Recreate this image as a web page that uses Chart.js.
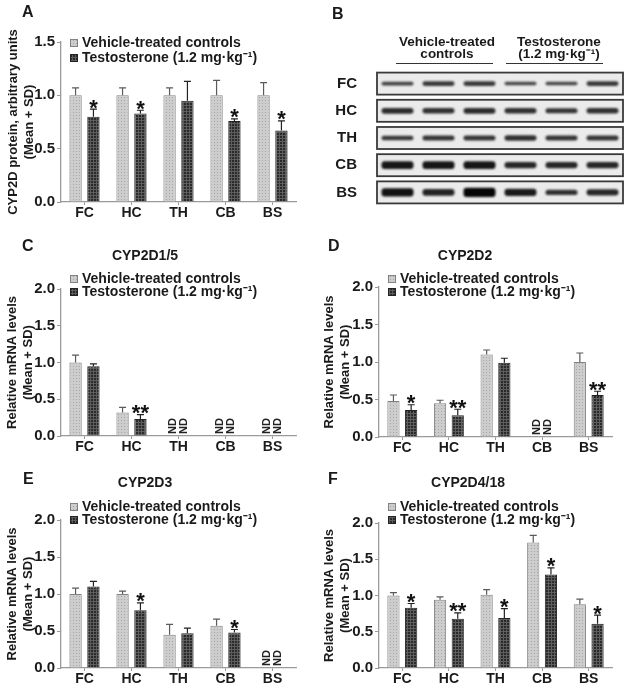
<!DOCTYPE html>
<html>
<head>
<meta charset="utf-8">
<script src="https://cdn.jsdelivr.net/npm/chart.js@4"></script>
<style>
    body { margin: 0; background: #fff; }
    #fig { position: relative; width: 629px; height: 688px; font-family: "Liberation Sans", Arial, sans-serif; color: #1a1a1a; }
    canvas { position: absolute; }
    .lbl { position: absolute; font-weight: bold; font-size: 16px; line-height: 1; }
    .ttl { position: absolute; font-weight: bold; font-size: 14px; font-family: "Liberation Sans Narrow", "Liberation Sans", Arial, sans-serif; transform: translate(-50%, -50%); white-space: nowrap; }
    .hdr { position: absolute; top: 36px; font-weight: bold; font-size: 13.5px; line-height: 11.5px; text-align: center; transform: translateX(-50%); white-space: nowrap; }
    .rule { position: absolute; top: 63px; height: 0; border-top: 1.5px solid #333; }
</style>
</head>
<body>
<div id="fig">
    <canvas id="chartA" width="318" height="228" style="left:0;top:0"></canvas>
    <canvas id="chartB" width="309" height="228" style="left:320px;top:0"></canvas>
    <canvas id="chartC" width="318" height="228" style="left:0;top:230px"></canvas>
    <canvas id="chartD" width="309" height="228" style="left:320px;top:230px"></canvas>
    <canvas id="chartE" width="318" height="228" style="left:0;top:460px"></canvas>
    <canvas id="chartF" width="309" height="228" style="left:320px;top:460px"></canvas>

    <div class="lbl" style="left:22px;top:4px">A</div>
    <div class="lbl" style="left:332px;top:6px">B</div>
    <div class="lbl" style="left:22px;top:238px">C</div>
    <div class="lbl" style="left:328px;top:238px">D</div>
    <div class="lbl" style="left:23px;top:471px">E</div>
    <div class="lbl" style="left:328px;top:471px">F</div>

    <div class="ttl" style="left:145px;top:255px">CYP2D1/5</div>
    <div class="ttl" style="left:465px;top:255px">CYP2D2</div>
    <div class="ttl" style="left:145px;top:482px">CYP2D3</div>
    <div class="ttl" style="left:468px;top:482px">CYP2D4/18</div>

    <div class="hdr" style="left:447px">Vehicle-treated<br>controls</div>
    <div class="hdr" style="left:559px">Testosterone<br>(1.2 mg·kg⁻¹)</div>
    <div class="rule" style="left:396px;width:97px"></div>
    <div class="rule" style="left:506px;width:97px"></div>
</div>
<script>
const regions = ["FC", "HC", "TH", "CB", "BS"];
const seriesNames = ["Vehicle-treated controls", "Testosterone (1.2 mg·kg⁻¹)"];

// A - CYP2D protein
const protCtrl = [1.0, 1.0, 1.0, 1.0, 1.0];
const protCtrlSD = [0.07, 0.07, 0.07, 0.14, 0.12];
const protTest = [0.80, 0.83, 0.95, 0.76, 0.67];
const protTestSD = [0.07, 0.03, 0.18, 0.02, 0.09];
const protStars = ["*", "*", "", "*", "*"];

// C - CYP2D1/5 mRNA
const d15Ctrl = [1.0, 0.32, null, null, null];
const d15CtrlSD = [0.10, 0.07, null, null, null];
const d15Test = [0.95, 0.23, null, null, null];
const d15TestSD = [0.03, 0.06, null, null, null];
const d15Stars = ["", "**", "", "", ""];
const d15ND = [false, false, true, true, true];

// D - CYP2D2 mRNA
const d2Ctrl = [0.48, 0.45, 1.10, null, 1.0];
const d2CtrlSD = [0.08, 0.04, 0.06, null, 0.12];
const d2Test = [0.36, 0.29, 0.99, null, 0.56];
const d2TestSD = [0.07, 0.08, 0.06, null, 0.05];
const d2Stars = ["*", "**", "", "", "**"];
const d2ND = [false, false, false, true, false];

// E - CYP2D3 mRNA
const d3Ctrl = [1.0, 1.0, 0.45, 0.57, null];
const d3CtrlSD = [0.08, 0.04, 0.14, 0.09, null];
const d3Test = [1.10, 0.78, 0.47, 0.48, null];
const d3TestSD = [0.07, 0.10, 0.07, 0.04, null];
const d3Stars = ["", "*", "", "*", ""];
const d3ND = [false, false, false, false, true];

// F - CYP2D4/18 mRNA
const d4Ctrl = [1.0, 0.94, 1.01, 1.73, 0.88];
const d4CtrlSD = [0.04, 0.04, 0.07, 0.10, 0.07];
const d4Test = [0.83, 0.68, 0.69, 1.29, 0.61];
const d4TestSD = [0.06, 0.08, 0.13, 0.09, 0.12];
const d4Stars = ["*", "**", "*", "*", "*"];

// B - western blot band intensities (6 lanes: 3 controls, 3 testosterone)
const lanes = ["1", "2", "3", "4", "5", "6"];
const blotRows = ["FC", "HC", "TH", "CB", "BS"];
const bandFC = [0.30, 0.40, 0.40, 0.25, 0.25, 0.40];
const bandHC = [0.55, 0.50, 0.55, 0.50, 0.45, 0.50];
const bandTH = [0.40, 0.45, 0.45, 0.50, 0.45, 0.45];
const bandCB = [0.80, 0.80, 0.80, 0.60, 0.60, 0.60];
const bandBS = [0.85, 0.65, 1.00, 0.75, 0.50, 0.60];
const bands = [bandFC, bandHC, bandTH, bandCB, bandBS];

Chart.defaults.font.family = '"Liberation Sans", Arial, sans-serif';
Chart.defaults.color = "#1a1a1a";

function makePattern(bg, fg, grid) {
    const c = document.createElement("canvas");
    c.width = 3;
    c.height = 3;
    const g = c.getContext("2d");
    g.fillStyle = bg;
    g.fillRect(0, 0, 3, 3);
    g.fillStyle = fg;
    if (grid) {
        g.fillRect(0, 0, 3, 1);
        g.fillRect(0, 0, 1, 3);
    } else {
        g.fillRect(1, 1, 1, 1);
    }
    return g.createPattern(c, "repeat");
}

const ctrlFill = makePattern("#cdcdcd", "#a6a6a6", false);
const testFill = makePattern("#2a2a2a", "#5e5e5e", true);

// error bars, asterisks and ND labels
const marks = {
    id: "marks",
    afterDatasetsDraw(chart, args, opts) {
        const ctx = chart.ctx;
        const x = chart.scales.x;
        const y = chart.scales.y;
        ctx.save();
        chart.data.datasets.forEach((ds, i) => {
            chart.getDatasetMeta(i).data.forEach((bar, j) => {
                const v = ds.data[j];
                if (v == null) return;
                const top = y.getPixelForValue(v + ds.sd[j]);
                ctx.strokeStyle = ds.errColor;
                ctx.lineWidth = 1.2;
                ctx.beginPath();
                ctx.moveTo(bar.x, bar.y);
                ctx.lineTo(bar.x, top);
                ctx.moveTo(bar.x - 3.5, top);
                ctx.lineTo(bar.x + 3.5, top);
                ctx.stroke();
                if (ds.stars && ds.stars[j]) {
                    ctx.fillStyle = "#111";
                    ctx.font = 'bold 22px "Liberation Sans", Arial';
                    ctx.textAlign = "center";
                    ctx.textBaseline = "alphabetic";
                    ctx.fillText(ds.stars[j], bar.x, top + 5.5);
                }
            });
        });
        const nd = opts.nd || [];
        ctx.font = 'bold 11px "Liberation Sans", Arial';
        ctx.fillStyle = "#222";
        nd.forEach((flag, j) => {
            if (!flag) return;
            const cx = x.getPixelForValue(j);
            [-5.5, 5.5].forEach((dx) => {
                ctx.save();
                ctx.translate(cx + dx, y.bottom - 2);
                ctx.rotate(-Math.PI / 2);
                ctx.textAlign = "left";
                ctx.textBaseline = "middle";
                ctx.fillText("ND", 0, 0);
                ctx.restore();
            });
        });
        ctx.restore();
    },
};

// legend drawn inside the plot, top left
const legendMarks = {
    id: "legendMarks",
    afterDraw(chart, args, opts) {
        const ctx = chart.ctx;
        const x = chart.chartArea.left + 9;
        ctx.save();
        chart.data.datasets.forEach((ds, i) => {
            const y = opts.y[i];
            ctx.fillStyle = ds.backgroundColor;
            ctx.fillRect(x, y - 4, 8, 8);
            ctx.strokeStyle = ds.borderColor;
            ctx.lineWidth = 1;
            ctx.strokeRect(x + 0.5, y - 3.5, 7, 7);
            ctx.fillStyle = "#1a1a1a";
            ctx.font = 'bold 14px "Liberation Sans", Arial';
            ctx.textAlign = "left";
            ctx.textBaseline = "middle";
            ctx.fillText(ds.label, x + 12, y + 0.5);
        });
        ctx.restore();
    },
};

function barPanel(id, p) {
    const cv = document.getElementById(id);
    new Chart(cv, {
        type: "bar",
        data: {
            labels: regions,
            datasets: [
                {
                    label: seriesNames[0],
                    data: p.ctrl,
                    sd: p.ctrlSD,
                    backgroundColor: ctrlFill,
                    borderColor: "#828282",
                    errColor: "#5a5a5a",
                    borderWidth: 1,
                    categoryPercentage: 0.76,
                    barPercentage: 0.69,
                },
                {
                    label: seriesNames[1],
                    data: p.test,
                    sd: p.testSD,
                    stars: p.stars,
                    backgroundColor: testFill,
                    borderColor: "#222",
                    errColor: "#222",
                    borderWidth: 1,
                    categoryPercentage: 0.76,
                    barPercentage: 0.69,
                },
            ],
        },
        options: {
            responsive: false,
            animation: false,
            events: [],
            layout: { padding: { top: p.top, right: cv.width - p.right, left: 0, bottom: 0 } },
            plugins: {
                legend: { display: false },
                tooltip: { enabled: false },
                marks: { nd: p.nd },
                legendMarks: { y: p.legendY },
            },
            scales: {
                x: {
                    ticks: { font: { size: 14, weight: "bold" }, color: "#1a1a1a", padding: 0 },
                    grid: { drawOnChartArea: false, offset: false, tickLength: 3, color: "#9a9a9a" },
                    border: { color: "#9a9a9a", width: 1.3 },
                    afterFit: (s) => { s.height = cv.height - p.bottom; },
                },
                y: {
                    min: 0,
                    max: p.max,
                    ticks: {
                        stepSize: 0.5,
                        callback: (v) => v.toFixed(1),
                        font: { size: 15, weight: "bold" },
                        color: "#1a1a1a",
                        padding: 2,
                    },
                    grid: { drawOnChartArea: false, tickLength: 4, color: "#9a9a9a" },
                    border: { color: "#9a9a9a", width: 1.3 },
                    title: {
                        display: true,
                        text: p.yTitle,
                        font: { size: 13, weight: "bold", lineHeight: 1.2 },
                        color: "#1a1a1a",
                        padding: { top: p.titlePad, bottom: 0 },
                    },
                    afterFit: (s) => { s.width = p.left; },
                },
            },
        },
        plugins: [marks, legendMarks],
    });
}

const mrnaTitle = ["Relative mRNA levels", "(Mean + SD)"];

barPanel("chartA", {
    ctrl: protCtrl, ctrlSD: protCtrlSD, test: protTest, testSD: protTestSD, stars: protStars, nd: [],
    max: 1.5, yTitle: ["CYP2D protein, arbitrary units", "(Mean + SD)"], titlePad: 6,
    top: 42, bottom: 202, left: 61, right: 296, legendY: [43, 58],
});
barPanel("chartC", {
    ctrl: d15Ctrl, ctrlSD: d15CtrlSD, test: d15Test, testSD: d15TestSD, stars: d15Stars, nd: d15ND,
    max: 2, yTitle: mrnaTitle, titlePad: 5,
    top: 59, bottom: 206, left: 61, right: 296, legendY: [49, 62],
});
barPanel("chartE", {
    ctrl: d3Ctrl, ctrlSD: d3CtrlSD, test: d3Test, testSD: d3TestSD, stars: d3Stars, nd: d3ND,
    max: 2, yTitle: mrnaTitle, titlePad: 5,
    top: 60, bottom: 208, left: 61, right: 296, legendY: [47, 60],
});
barPanel("chartD", {
    ctrl: d2Ctrl, ctrlSD: d2CtrlSD, test: d2Test, testSD: d2TestSD, stars: d2Stars, nd: d2ND,
    max: 2, yTitle: mrnaTitle, titlePad: 2,
    top: 57, bottom: 207, left: 59, right: 292, legendY: [49, 62],
});
barPanel("chartF", {
    ctrl: d4Ctrl, ctrlSD: d4CtrlSD, test: d4Test, testSD: d4TestSD, stars: d4Stars, nd: [],
    max: 2, yTitle: mrnaTitle, titlePad: 2,
    top: 63, bottom: 208, left: 59, right: 292, legendY: [47, 60],
});

// blot: gray boxes per row, bands slightly blurred
const blotBoxes = {
    id: "blotBoxes",
    beforeDatasetsDraw(chart) {
        const ctx = chart.ctx;
        const y = chart.scales.y;
        const { left, right } = chart.chartArea;
        ctx.save();
        blotRows.forEach((r, i) => {
            const y0 = y.getPixelForValue(i + 0.095);
            const y1 = y.getPixelForValue(i + 0.905);
            ctx.fillStyle = "#ebebeb";
            ctx.fillRect(left, y0, right - left, y1 - y0);
            ctx.strokeStyle = "#3a3a3a";
            ctx.lineWidth = 1.8;
            ctx.strokeRect(left, y0, right - left, y1 - y0);
        });
        ctx.restore();
        ctx.save();
        ctx.filter = "blur(0.8px)";
    },
    afterDatasetsDraw(chart) {
        chart.ctx.restore();
    },
};

const gray = (v) => {
    const g = Math.round(90 - 85 * v);
    return `rgb(${g},${g},${g})`;
};

new Chart(document.getElementById("chartB"), {
    type: "bar",
    data: {
        labels: lanes,
        datasets: bands.map((row, r) => ({
            data: row.map((v) => {
                const h = 0.055 + 0.29 * v;
                return [r + 0.5 - h / 2, r + 0.5 + h / 2];
            }),
            backgroundColor: row.map(gray),
            grouped: false,
            barPercentage: 0.78,
            categoryPercentage: 1,
            borderRadius: 3,
            borderSkipped: false,
            borderWidth: 0,
        })),
    },
    options: {
        responsive: false,
        animation: false,
        events: [],
        layout: { padding: { top: 70, bottom: 22, right: 6, left: 0 } },
        plugins: { legend: { display: false }, tooltip: { enabled: false } },
        scales: {
            x: { display: false },
            y: {
                min: 0,
                max: 5,
                reverse: true,
                afterBuildTicks: (s) => { s.ticks = blotRows.map((_, i) => ({ value: i + 0.5 })); },
                ticks: {
                    autoSkip: false,
                    callback: (v, i) => blotRows[i],
                    font: { size: 15, weight: "bold" },
                    color: "#1a1a1a",
                    padding: 12,
                },
                grid: { display: false },
                border: { display: false },
                afterFit: (s) => { s.width = 57; },
            },
        },
    },
    plugins: [blotBoxes],
});
</script>
</body>
</html>
